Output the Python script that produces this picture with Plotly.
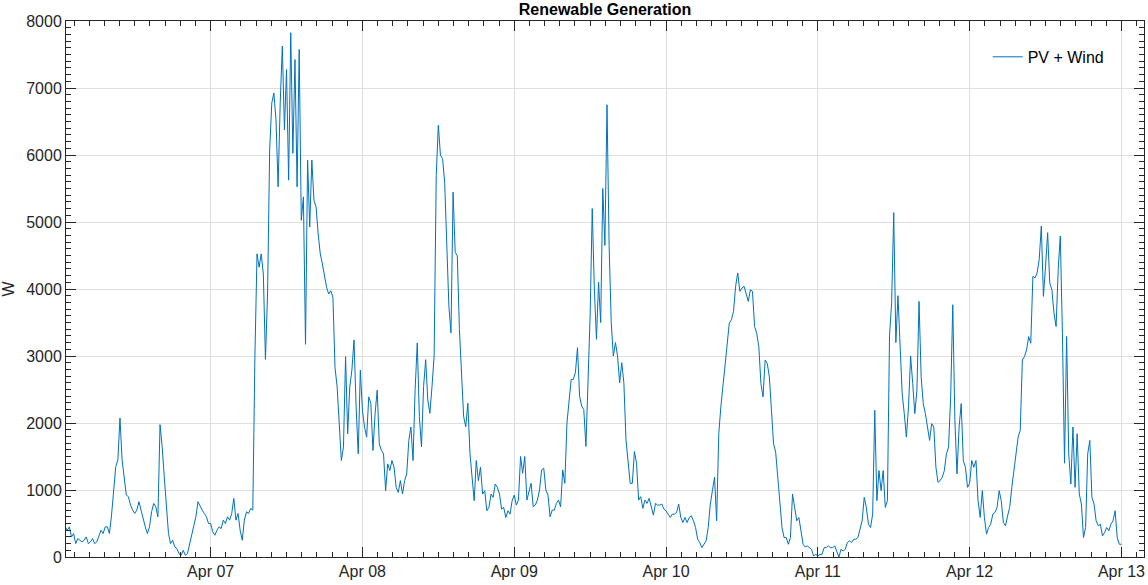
import pandas as pd
import plotly.graph_objects as go

# Combined PV + wind output in W, sampled every 20 minutes.
# Apr 06 starts at 01:00; the other days start at 00:00.
apr06 = [450, 400, 450, 300, 350, 200, 275, 250, 225, 250, 300, 200,
         225, 275, 200, 225, 300, 400, 350, 450, 450, 350, 625, 1050,
         1350, 1450, 2075, 1450, 1200, 925, 900, 775, 700, 650, 700, 825,
         700, 550, 450, 350, 450, 675, 800, 750, 600, 1975, 1650, 1200,
         750, 350, 200, 250, 150, 125, 50, 25, 100, 25, 50, 200,
         350, 450, 600, 825, 750, 700, 650, 600, 500]
apr07 = [500, 375, 325, 400, 450, 425, 550, 500, 600, 550, 650, 875,
         550, 650, 400, 250, 550, 675, 650, 725, 700, 3000, 4525, 4325,
         4525, 4225, 2950, 3925, 6075, 6775, 6925, 6525, 5525, 6775, 7625, 6375,
         7275, 5625, 7825, 6025, 7425, 5525, 7575, 5025, 5375, 3175, 5925, 4925,
         5925, 5325, 5225, 4825, 4525, 4375, 4175, 4025, 3925, 3975, 3875, 2825,
         2540, 1940, 1440, 1640, 2990, 1840, 2540, 2790, 3240, 2240, 1540, 2790]
apr08 = [2190, 1940, 1790, 2390, 2290, 1590, 2140, 2490, 1690, 1590, 1540, 990,
         1390, 1290, 1440, 1340, 1040, 965, 1140, 940, 1140, 1240, 1740, 1940,
         1440, 2500, 3195, 2095, 1645, 2545, 2945, 2345, 2145, 2545, 2995, 5695,
         6445, 5995, 5945, 5595, 4595, 3745, 3345, 5445, 4545, 4495, 3395, 2745,
         2095, 1945, 2295, 1545, 1240, 840, 1440, 1140, 1340, 940, 990, 690,
         740, 940, 890, 1090, 1040, 940, 715, 740, 590, 690, 640, 840]
apr09 = [925, 775, 850, 1500, 1250, 1500, 850, 1000, 1100, 750, 775, 850,
         1000, 1300, 1325, 1000, 925, 600, 700, 700, 800, 850, 750, 1300,
         1100, 2000, 2350, 2650, 2650, 2750, 3125, 2400, 2250, 2200, 1650, 2750,
         3600, 5200, 4000, 3250, 4100, 3500, 5500, 4650, 6750, 4650, 3500, 3000,
         3200, 3000, 2600, 2900, 2600, 1750, 1375, 1100, 1100, 1575, 1400, 850,
         900, 725, 850, 800, 875, 750, 625, 800, 775, 775, 790, 715]
apr10 = [690, 640, 590, 640, 640, 665, 790, 590, 515, 590, 515, 590,
         615, 540, 440, 265, 215, 140, 190, 240, 440, 790, 990, 1190,
         540, 1840, 2240, 2540, 2840, 3090, 3490, 3540, 3665, 4040, 4240, 3965,
         4015, 4040, 3915, 3815, 3990, 3965, 3440, 3340, 3140, 2590, 2390, 2940,
         2890, 2690, 2190, 1690, 1565, 1140, 790, 440, 290, 290, 190, 290,
         940, 740, 540, 590, 390, 190, 150, 165, 140, 115, 15, 40]
apr11 = [15, 40, 40, 140, 140, 165, 140, 140, 165, 90, 0, 115,
         90, 115, 215, 240, 215, 265, 265, 290, 415, 540, 890, 740,
         490, 440, 640, 2190, 840, 1290, 990, 1290, 740, 840, 3300, 3800,
         5140, 3200, 3900, 3140, 2440, 2140, 1790, 2240, 3000, 2590, 2140, 2490,
         3815, 2690, 2290, 2140, 1940, 1740, 1990, 1940, 1340, 1115, 1140, 1190,
         1290, 1540, 1640, 2390, 3765, 2040, 1240, 1940, 2290, 1440, 1340, 1040]
apr12 = [1100, 1440, 1340, 1440, 840, 590, 990, 590, 340, 440, 490, 640,
         665, 740, 990, 840, 515, 465, 615, 740, 1040, 1290, 1590, 1790,
         1890, 2940, 2990, 3090, 3290, 3190, 4190, 4165, 4240, 4440, 4940, 3890,
         4340, 4840, 4090, 3990, 3640, 3440, 4290, 4790, 3340, 1400, 3290, 1540,
         1090, 1940, 1040, 1840, 940, 790, 290, 440, 1540, 1740, 890, 790,
         540, 465, 490, 315, 365, 440, 390, 490, 540, 690, 290, 190]
apr13 = [190]

series_name = "PV + Wind"
title_text = "Renewable Generation"
y_label = "W"

power = apr06 + apr07 + apr08 + apr09 + apr10 + apr11 + apr12 + apr13
stamps = pd.date_range("2021-04-06 01:00", periods=len(power), freq="20min")

axis_color = "#262626"
grid_color = "#dfdfdf"

fig = go.Figure()
fig.add_trace(go.Scatter(
    x=stamps, y=power, mode="lines", name=series_name,
    line=dict(color="#0072BD", width=1),
    showlegend=True,
))

fig.update_layout(
    width=1148, height=585,
    margin=dict(l=66, r=4, t=21, b=28, pad=0, autoexpand=False),
    paper_bgcolor="white", plot_bgcolor="white",
    font=dict(family="Liberation Sans, Arial, sans-serif", size=16, color=axis_color),
    title=dict(text=title_text, x=0.5, xref="paper", xanchor="center",
               y=1 - 9.5 / 585, yref="container", yanchor="middle",
               font=dict(size=16, weight="bold", color="black")),
    legend=dict(x=0.855, y=0.933, xanchor="left", yanchor="middle",
                bgcolor="rgba(0,0,0,0)", borderwidth=0,
                font=dict(size=16, color="black")),
)

fig.update_xaxes(
    type="date", automargin=False,
    range=["2021-04-06 01:08", "2021-04-13 03:34"],
    tick0="2021-04-06", dtick=86400000, tickformat="%b %d",
    ticks="inside", ticklen=10, tickcolor=axis_color, tickwidth=1,
    showline=True, linecolor=axis_color, linewidth=1, mirror="ticks",
    showgrid=True, gridcolor=grid_color, gridwidth=1, zeroline=False,
    minor=dict(tick0="2021-04-06", dtick=8640000, ticks="inside", ticklen=5,
               tickcolor=axis_color, showgrid=False),
)
fig.update_yaxes(
    automargin=False,
    range=[0, 8000], dtick=1000, tick0=0,
    title=dict(text=y_label, font=dict(size=16), standoff=8),
    ticks="inside", ticklen=10, tickcolor=axis_color, tickwidth=1,
    showline=True, linecolor=axis_color, linewidth=1, mirror="ticks",
    showgrid=True, gridcolor=grid_color, gridwidth=1, zeroline=False,
    minor=dict(dtick=100, ticks="inside", ticklen=5,
               tickcolor=axis_color, showgrid=False),
)

fig.write_html("out.html")
